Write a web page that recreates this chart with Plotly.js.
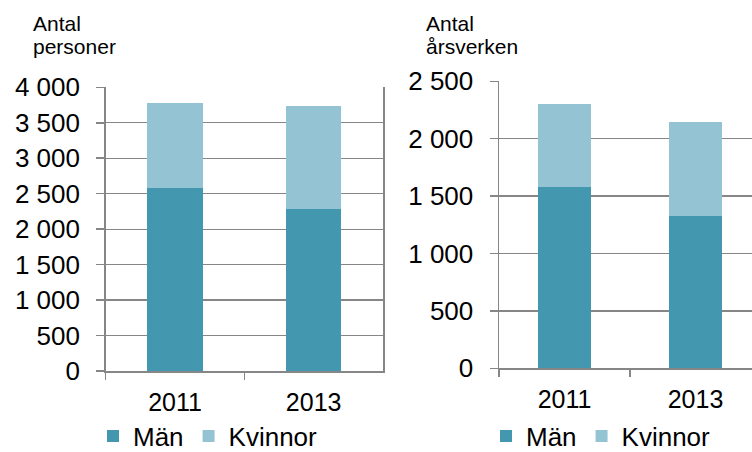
<!DOCTYPE html>
<html>
<head>
<meta charset="utf-8">
<script src="https://cdn.plot.ly/plotly-3.0.1.min.js"></script>
<style>html,body{margin:0;padding:0;background:#fff;}#chart{width:752px;height:452px;}</style>
</head>
<body>
<div id="chart"></div>
<script>
// Data
const years = ['2011', '2013'];
const personerMan = [2580, 2280];
const personerKvinnor = [1205, 1455];
const arsverkenMan = [1580, 1328];
const arsverkenKvinnor = [726, 820];
const seriesNames = ['Män', 'Kvinnor'];
const titleLeft = ['Antal', 'personer'];
const titleRight = ['Antal', 'årsverken'];

const cMan = '#4398B0';
const cKv = '#94C4D4';
const grid = '#868686';
const FONT = 'Liberation Sans, Arial, sans-serif';
const W = 752, H = 452;

const traces = [
  {type: 'bar', x: years, y: personerMan, name: seriesNames[0], marker: {color: cMan}, xaxis: 'x', yaxis: 'y', legend: 'legend', hoverinfo: 'y'},
  {type: 'bar', x: years, y: personerKvinnor, name: seriesNames[1], marker: {color: cKv}, xaxis: 'x', yaxis: 'y', legend: 'legend', hoverinfo: 'y'},
  {type: 'bar', x: years, y: arsverkenMan, name: seriesNames[0], marker: {color: cMan}, xaxis: 'x2', yaxis: 'y2', legend: 'legend2', hoverinfo: 'y'},
  {type: 'bar', x: years, y: arsverkenKvinnor, name: seriesNames[1], marker: {color: cKv}, xaxis: 'x2', yaxis: 'y2', legend: 'legend2', hoverinfo: 'y'}
];

const xCommon = {
  type: 'category', tickson: 'boundaries', ticks: 'outside', ticklen: 7, tickwidth: 1.5, tickcolor: grid,
  showline: true, linecolor: grid, linewidth: 1.5, showgrid: false, zeroline: false,
  tickfont: {family: FONT, size: 25, color: '#000'}, ticklabelstandoff: 8, fixedrange: true
};
const yCommon = {
  dtick: 500, tick0: 0, ticks: 'outside', ticklen: 8, tickwidth: 1.5, tickcolor: grid,
  showline: true, linecolor: grid, linewidth: 1.5, showgrid: true, gridcolor: grid, gridwidth: 1.3,
  zeroline: false, separatethousands: true, ticklabelstandoff: 11,
  tickfont: {family: FONT, size: 26, color: '#000'}, fixedrange: true
};

function ann(text, px, py) {
  return {text: text, xref: 'paper', yref: 'paper', x: px / W, y: 1 - py / H,
    xanchor: 'left', yanchor: 'middle', showarrow: false, align: 'left',
    font: {family: FONT, size: 21, color: '#000'}};
}

const layout = {
  width: W, height: H,
  margin: {l: 0, r: 0, t: 0, b: 0, autoexpand: false},
  paper_bgcolor: '#fff', plot_bgcolor: '#fff',
  barmode: 'stack', bargap: 0.6,
  separators: '. ',
  font: {family: FONT, color: '#000'},
  xaxis: Object.assign({}, xCommon, {domain: [105.7 / W, 383 / W], range: [-0.5, 1.5], anchor: 'y'}),
  yaxis: Object.assign({}, yCommon, {domain: [(H - 371) / H, (H - 87.3) / H], range: [0, 4000], mirror: true, anchor: 'x'}),
  xaxis2: Object.assign({}, xCommon, {domain: [499 / W, 1], range: [-0.5, 1.431], anchor: 'y2'}),
  yaxis2: Object.assign({}, yCommon, {domain: [(H - 368.3) / H, (H - 81.3) / H], range: [0, 2500], anchor: 'x2'}),
  legend: {orientation: 'h', xref: 'container', yref: 'container', x: 93 / W, y: 1 - 436 / H,
    xanchor: 'left', yanchor: 'middle', font: {family: FONT, size: 26, color: '#000'},
    bgcolor: 'rgba(0,0,0,0)', traceorder: 'normal'},
  legend2: {orientation: 'h', xref: 'container', yref: 'container', x: 486 / W, y: 1 - 436 / H,
    xanchor: 'left', yanchor: 'middle', font: {family: FONT, size: 26, color: '#000'},
    bgcolor: 'rgba(0,0,0,0)', traceorder: 'normal'},
  annotations: [
    ann(titleLeft[0], 31, 23.5), ann(titleLeft[1], 31, 46),
    ann(titleRight[0], 424, 23.5), ann(titleRight[1], 424, 46)
  ],
  showlegend: true
};

Plotly.newPlot('chart', traces, layout, {displayModeBar: false, staticPlot: true});
</script>
</body>
</html>
